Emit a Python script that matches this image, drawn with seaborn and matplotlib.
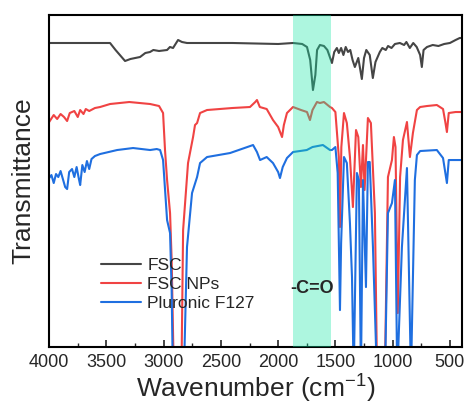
import numpy as np
import pandas as pd
import matplotlib
matplotlib.use("Agg")
import matplotlib.pyplot as plt
from matplotlib.ticker import MultipleLocator
import seaborn as sns

# ─── Data (transmittance in arbitrary units) ─────────────────────────────────
fsc_wn = [4000, 3600, 3468, 3420, 3337, 3290, 3206, 3160, 3119, 3090, 3040,
          2970, 2945, 2918, 2874, 2840, 2796, 2400, 2000, 1870, 1790, 1748,
          1720, 1696, 1675, 1660, 1635, 1600, 1570, 1530, 1510, 1487, 1470,
          1450, 1430, 1410, 1390, 1370, 1350, 1330, 1300, 1269, 1250, 1230,
          1200, 1173, 1150, 1112, 1090, 1060, 1040, 1010, 980, 937, 900, 880,
          850, 820, 790, 760, 745, 730, 700, 650, 600, 550, 500, 450, 414, 395]
fsc_t = [304, 304, 304, 297, 286, 288, 290, 294, 295, 297, 296,
         297, 300, 299, 307, 305, 304, 304, 303, 304, 303, 300,
         287, 257, 272, 297, 302, 301, 297, 284, 295, 299, 294,
         299, 292, 300, 295, 297, 287, 280, 289, 268, 289, 297,
         292, 269, 285, 295, 299, 297, 301, 299, 303, 304, 302, 305,
         299, 304, 300, 292, 280, 297, 300, 302, 301, 303, 304, 307, 309, 309]

np_wn = [4000, 3960, 3930, 3900, 3870, 3843, 3820, 3780, 3750, 3729, 3700,
         3680, 3650, 3600, 3555, 3468, 3300, 3118, 3040, 3005, 2988, 2970,
         2944, 2930, 2909, 2880, 2848, 2830, 2787, 2760, 2743, 2726, 2708,
         2682, 2621, 2400, 2246, 2200, 2185, 2160, 2100, 2045, 2000, 1966,
         1950, 1923, 1870, 1800, 1748, 1722, 1700, 1661, 1635, 1600, 1547,
         1530, 1500, 1470, 1460, 1448, 1425, 1400, 1373, 1347, 1320, 1300,
         1277, 1259, 1245, 1216, 1190, 1155, 1137, 1100, 1067, 1041, 1006,
         989, 975, 955, 935, 910, 875, 849, 823, 788, 760, 700, 614, 560,
         540, 526, 510, 450, 395]
np_t = [225, 232, 228, 233, 230, 226, 234, 236, 230, 237, 233,
        238, 236, 239, 240, 243, 245, 243, 241, 234, 197, 167,
        134, 87, -40, -10, -60, 117, 184, 200, 210, 222, 224,
        234, 237, 239, 240, 245, 247, 240, 238, 227, 220, 210,
        222, 234, 240, 237, 235, 227, 237, 245, 244, 245, 240,
        239, 235, 190, 120, 200, 234, 224, 190, 140, 217, 210,
        160, 202, 157, 229, 224, 134, -20, -60, -20, 170, 187,
        210, 200, 34, 170, 207, 225, 190, 214, 237, 240, 241, 242, 238,
        225, 215, 234, 235, 235]

f127_wn = [4000, 3980, 3960, 3940, 3920, 3900, 3880, 3860, 3843, 3825, 3800,
           3780, 3760, 3740, 3729, 3710, 3690, 3670, 3650, 3630, 3600, 3555,
           3406, 3267, 3118, 3060, 3031, 3005, 2970, 2944, 2930, 2918, 2880,
           2830, 2796, 2752, 2708, 2682, 2621, 2420, 2219, 2185, 2158, 2100,
           2045, 2000, 1984, 1960, 1923, 1870, 1750, 1700, 1609, 1547, 1530,
           1500, 1480, 1460, 1450, 1425, 1400, 1373, 1355, 1340, 1312, 1295,
           1277, 1259, 1233, 1216, 1200, 1172, 1137, 1100, 1067, 1041, 1006,
           980, 960, 919, 875, 840, 806, 788, 760, 614, 560, 526, 510, 450, 395]
f127_t = [169, 172, 164, 173, 170, 176, 168, 160, 158, 175, 178,
          170, 180, 168, 162, 182, 175, 186, 178, 188, 191, 193,
          197, 199, 197, 198, 197, 187, 127, 114, 57, -40, -10,
          -60, 100, 154, 170, 184, 190, 194, 202, 195, 187, 190,
          184, 175, 169, 180, 189, 195, 197, 200, 202, 197, 197,
          200, 174, 37, 104, 190, 184, 124, 70, -30, 174, 167,
          -30, 167, 60, 185, 185, 100, -30, -40, -30, 134, 144,
          167, -30, 100, 179, -30, 167, 192, 196, 197, 189, 164, 187, 187, 187]

series_names  = ["FSC", "FSC NPs", "Pluronic F127"]
series_colors = ["#454545", "#f04343", "#1f6fe0"]

band_lo, band_hi = 1540, 1870
band_label = "-C=O"

# ─── Plot ────────────────────────────────────────────────────────────────────
sns.set_theme(style="ticks")
plt.rcParams["font.family"] = ["Liberation Sans", "DejaVu Sans"]
plt.rcParams["mathtext.fontset"] = "custom"
plt.rcParams["mathtext.rm"] = "Liberation Sans"

fig = plt.figure(figsize=(4.68, 4.05), dpi=100)
ax = fig.add_axes([0.105, 0.143, 0.882, 0.820])

all_data = [(fsc_wn, fsc_t), (np_wn, np_t), (f127_wn, f127_t)]
for (wn, t), name, col in zip(all_data, series_names, series_colors):
    df = pd.DataFrame({"wn": wn, "t": t})
    sns.lineplot(data=df, x="wn", y="t", color=col, lw=1.5, label=name,
                 estimator=None, sort=True, ax=ax, zorder=2)

ax.axvspan(band_lo, band_hi, color="#14e7a6", alpha=0.35, lw=0, zorder=3)
ax.text(1700, 59, band_label, ha="center", va="center",
        fontsize=13, fontweight="bold", zorder=4)

ax.set_xlim(4000, 395)
ax.set_ylim(0, 332)
ax.xaxis.set_major_locator(MultipleLocator(500))
ax.xaxis.set_minor_locator(MultipleLocator(250))
ax.tick_params(axis="x", which="major", direction="in", length=5, width=1.2,
               labelsize=13, pad=5)
ax.tick_params(axis="x", which="minor", direction="in", length=3, width=1.0)
ax.set_yticks([])
for sp in ax.spines.values():
    sp.set_linewidth(1.5)
    sp.set_color("black")

ax.set_xlabel("Wavenumber (cm$^{-1}$)", fontsize=19, labelpad=0)
ax.set_ylabel("Transmittance", fontsize=19, labelpad=10)

ax.legend(loc="upper left", bbox_to_anchor=(0.11, 0.29), frameon=False,
          fontsize=12.5, handlelength=2.3, labelspacing=0.22, handletextpad=0.35,
          borderaxespad=0)

plt.savefig("out.png", dpi=100)
plt.close()
